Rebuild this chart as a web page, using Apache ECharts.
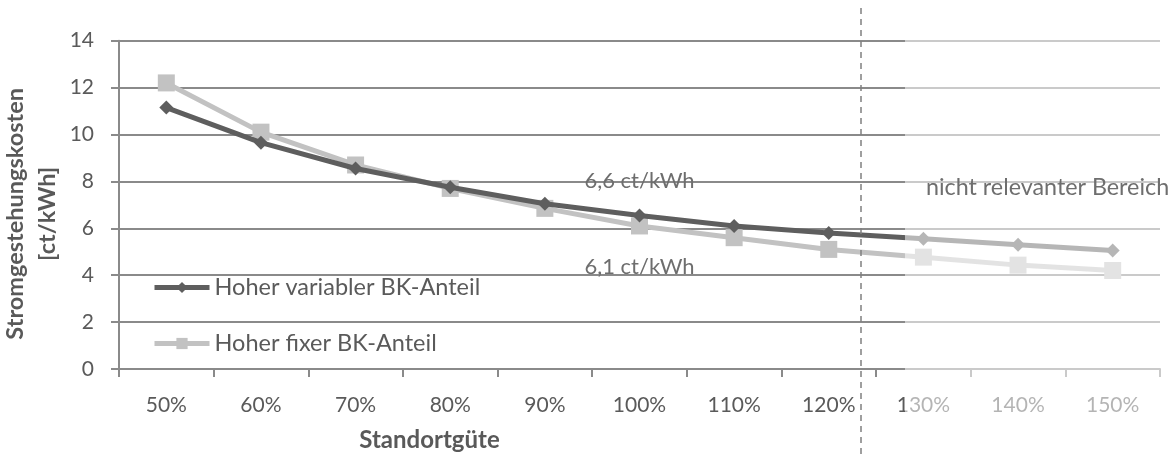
<!DOCTYPE html>
<html>
<head>
<meta charset="utf-8">
<script src="https://cdn.jsdelivr.net/npm/echarts@6/dist/echarts.min.js"></script>
<style>html,body{margin:0;padding:0;background:#fff;}#c{width:1174px;height:454px;}</style>
</head>
<body>
<div id="c"></div>
<script>
const categories = ['50%','60%','70%','80%','90%','100%','110%','120%','130%','140%','150%'];
const variableShare = [11.15, 9.65, 8.55, 7.75, 7.05, 6.55, 6.1, 5.8, 5.55, 5.3, 5.05];
const fixedShare = [12.2, 10.1, 8.7, 7.7, 6.85, 6.1, 5.6, 5.1, 4.77, 4.43, 4.2];
const yTicks = {min: 0, max: 14, interval: 2};
const annotationVariable = {category: '100%', value: 8, text: '6,6 ct/kWh'};
const annotationFixed = {category: '100%', value: 4.35, text: '6,1 ct/kWh'};

const FONT = 'Lato';
const gridColor = '#8a8a8a';
const chart = echarts.init(document.getElementById('c'));
chart.setOption({
  animation: false,
  textStyle: {fontFamily: FONT},
  grid: {left: 119, right: 14, top: 40.7, bottom: 85, containLabel: false, outerBoundsMode: 'none'},
  legend: {
    orient: 'vertical', left: 147, top: 270,
    itemWidth: 55, itemHeight: 14, itemGap: 31,
    textStyle: {fontFamily: FONT, fontSize: 23.5, color: '#5a5a5a', lineHeight: 25},
    data: [
      {name: 'Hoher variabler BK-Anteil', lineStyle: {width: 5}},
      {name: 'Hoher fixer BK-Anteil', lineStyle: {width: 5}}
    ]
  },
  xAxis: {
    type: 'category', data: categories, boundaryGap: true,
    axisLine: {lineStyle: {color: gridColor, width: 2}},
    axisTick: {show: true, length: 8, lineStyle: {color: gridColor, width: 2}},
    axisLabel: {fontSize: 21, color: '#5a5a5a', margin: 26},
    name: 'Standortgüte', nameLocation: 'middle', nameGap: 59,
    nameTextStyle: {fontSize: 24, fontWeight: 'bold', color: '#595959', padding: [0, 420, 0, 0]}
  },
  yAxis: {
    type: 'value', min: yTicks.min, max: yTicks.max, interval: yTicks.interval,
    axisLine: {show: true, lineStyle: {color: gridColor, width: 2}},
    axisTick: {show: true, length: 8, lineStyle: {color: gridColor, width: 2}},
    splitLine: {lineStyle: {color: gridColor, width: 2}},
    axisLabel: {fontSize: 21, color: '#5a5a5a', margin: 25},
    name: 'Stromgestehungskosten\n[ct/kWh]', nameLocation: 'middle', nameGap: 56, nameMoveOverlap: false,
    nameTextStyle: {fontSize: 23.5, fontWeight: 'bold', color: '#595959', lineHeight: 32, padding: [0, 18, 0, 0]}
  },
  series: [
    {
      name: 'Hoher variabler BK-Anteil', type: 'line', data: variableShare,
      symbol: 'diamond', symbolSize: 14, z: 3,
      lineStyle: {color: '#5e5e5e', width: 5},
      itemStyle: {color: '#5e5e5e'},
      markPoint: {
        symbol: 'circle', symbolSize: 0,
        label: {show: true, position: 'inside', formatter: annotationVariable.text, fontSize: 22, color: '#6e6e6e', fontFamily: FONT},
        data: [{coord: [annotationVariable.category, annotationVariable.value]}]
      }
    },
    {
      name: 'Hoher fixer BK-Anteil', type: 'line', data: fixedShare,
      symbol: 'rect', symbolSize: 17, z: 2,
      lineStyle: {color: '#c2c2c2', width: 5},
      itemStyle: {color: '#c2c2c2'},
      markPoint: {
        symbol: 'circle', symbolSize: 0,
        label: {show: true, position: 'inside', formatter: annotationFixed.text, fontSize: 22, color: '#6e6e6e', fontFamily: FONT},
        data: [{coord: [annotationFixed.category, annotationFixed.value]}]
      }
    }
  ],
  graphic: [
    {type: 'rect', z: 100, silent: true, shape: {x: 905, y: 0, width: 269, height: 454}, style: {fill: 'rgba(255,255,255,0.55)'}},
    {type: 'line', z: 101, silent: true, shape: {x1: 861, y1: 8, x2: 861, y2: 454}, style: {stroke: '#808080', lineWidth: 1.5, lineDash: [6, 5]}},
    {type: 'text', z: 102, silent: true, x: 926, y: 176, style: {text: 'nicht relevanter Bereich', fontFamily: FONT, fontSize: 23.3, fill: '#6e6e6e'}}
  ]
});
</script>
</body>
</html>
